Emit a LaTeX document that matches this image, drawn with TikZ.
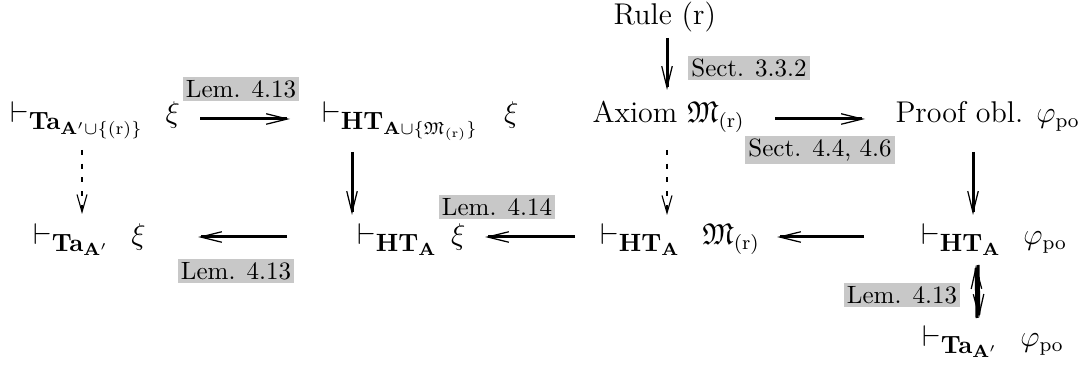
\documentclass[tikz,border=0pt]{standalone}
\usepackage{amsmath,amssymb}
\usetikzlibrary{arrows.meta,calc}
\definecolor{labgray}{RGB}{200,200,200}
\newcommand{\tsub}[1]{_{\mbox{\normalsize$#1$}}}
\tikzset{
  main/.style={inner sep=0pt, anchor=base west, font=\large},
  lab/.style={fill=labgray, inner sep=1.2pt, font=\normalsize},
  arr/.style={line width=1.2pt, -{Straight Barb[length=8.5pt,width=4.2pt,line width=0.5pt]}},
  darr/.style={line width=0.45pt, dash pattern=on 2pt off 3.5pt, -{Straight Barb[length=7pt,width=4pt,line width=0.45pt]}},
}
\begin{document}
\begin{tikzpicture}[x=0.4pt,y=-0.4pt]
\useasboundingbox (0,0) rectangle (1079,365);
% nodes
\node[main] (rule) at (613,25) {Rule (r)};
\node[main] (n1) at (10,123) {$\vdash\tsub{\mathbf{Ta}_{\mathbf{A}'\cup\{(\mathrm{r})\}}}\;\,\xi$};
\node[main] (n2) at (322,123) {$\vdash\tsub{\mathbf{HT}_{\mathbf{A}\cup\{\mathfrak{M}_{(\mathrm{r})}\}}}\;\;\xi$};
\node[main] (ax) at (592,123) {Axiom $\mathfrak{M}_{(\mathrm{r})}$};
\node[main] (po) at (895,123) {Proof obl. $\varphi_{\mathrm{po}}$};
\node[main] (n3) at (33,245) {$\vdash\tsub{\mathbf{Ta}_{\mathbf{A}'}}\;\,\xi$};
\node[main] (n4) at (357,245) {$\vdash\tsub{\mathbf{HT}_{\mathbf{A}}}\,\xi$};
\node[main] (n5) at (600,245) {$\vdash\tsub{\mathbf{HT}_{\mathbf{A}}}\;\,\mathfrak{M}_{(\mathrm{r})}$};
\node[main] (n6) at (921,245) {$\vdash\tsub{\mathbf{HT}_{\mathbf{A}}}\;\,\varphi_{\mathrm{po}}$};
\node[main] (n7) at (922,347) {$\vdash\tsub{\mathbf{Ta}_{\mathbf{A}'}}\;\,\varphi_{\mathrm{po}}$};
% labels
\node[lab] (l1) at (241,89) {Lem. 4.13};
\node[lab] (l2) at (749,68) {Sect. 3.3.2};
\node[lab] (l3) at (497,207) {Lem. 4.14};
\node[lab] (l4) at (820,150) {Sect. 4.4, 4.6};
\node[lab] (l5) at (236,271) {Lem. 4.13};
\node[lab] (l6) at (902,295) {Lem. 4.13};
% horizontal arrows
\draw[arr] ($(n1.base west)+(190,-4)$) -- ($(n2.base west)+(-32,-4)$);
\draw[arr] ($(ax.base west)+(183,-4)$) -- ($(po.base west)+(-30,-4)$);
\draw[arr] ($(n4.base west)+(-70,-8)$) -- ($(n3.base west)+(165,-8)$);
\draw[arr] ($(n5.base west)+(-25,-8)$) -- ($(n4.base west)+(128,-8)$);
\draw[arr] ($(n6.base west)+(-57,-8)$) -- ($(n5.base west)+(177,-8)$);
% vertical arrows
\draw[arr] ($(rule.base west)+(54,13)$) -- ($(ax.base west)+(75,-33)$);
\draw[darr] ($(n1.base west)+(72,27)$) -- ($(n3.base west)+(49,-31)$);
\draw[arr] ($(n2.base west)+(30,29)$) -- ($(n4.base west)+(-5,-30)$);
\draw[darr] ($(ax.base west)+(75,27)$) -- ($(n5.base west)+(67,-30)$);
\draw[arr] ($(po.base west)+(78,29)$) -- ($(n6.base west)+(52,-30)$);
\draw[arr] ($(n7.base west)+(55,-29)$) -- ($(n6.base west)+(55,20)$);
\draw[arr] ($(n6.base west)+(57,20)$) -- ($(n7.base west)+(57,-29)$);
\end{tikzpicture}
\end{document}
